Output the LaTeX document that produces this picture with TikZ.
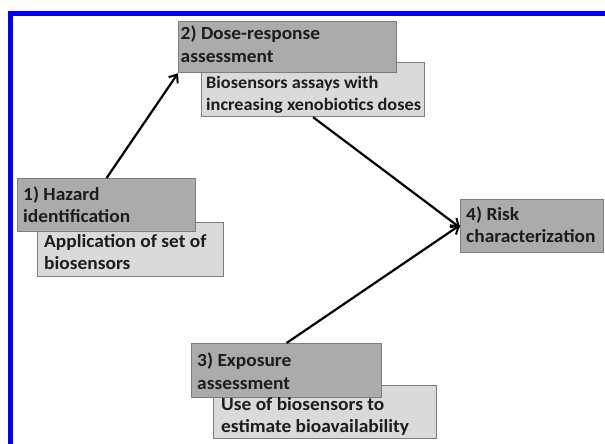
\documentclass[tikz,border=0pt]{standalone}
\usepackage{fontspec}
\setmainfont{Carlito}[FakeStretch=1.05]
\usetikzlibrary{arrows.meta}
\definecolor{darkfill}{RGB}{171,171,171}
\definecolor{lightfill}{RGB}{218,218,218}
\definecolor{boxline}{RGB}{125,125,125}
\definecolor{inkgray}{RGB}{28,28,28}
\definecolor{framblue}{RGB}{0,0,250}
\tikzset{
  darkbox/.style={draw=boxline, line width=1.2pt, fill=darkfill, anchor=north west, inner sep=0pt},
  lightbox/.style={draw=boxline, line width=1.2pt, fill=lightfill, anchor=north west, inner sep=0pt},
  label text/.style={anchor=base west, inner sep=0pt, text=inkgray,
    font=\bfseries\fontsize{18.5}{22.5}\selectfont},
  small text/.style={label text, font=\bfseries\fontsize{17.4}{22}\selectfont},
  flow/.style={draw=black, line width=2.2pt, -{Straight Barb[length=7pt, width=11pt, line width=2pt]}},
}
\newcommand{\twolines}[2]{\parbox[t]{260pt}{\raggedright #1\\#2}}
\begin{document}
\begin{tikzpicture}[x=1pt, y=-1pt]
  \useasboundingbox (0,0) rectangle (605,444);
  % blue frame, open to the right and bottom
  \draw[framblue, line width=5pt] (10.5,460) -- (10.5,13.5) -- (620,13.5);

  % lower (detail) boxes
  \node[lightbox, minimum width=223pt, minimum height=54pt] (d2) at (201,62) {};
  \node[lightbox, minimum width=186pt, minimum height=54pt] (d1) at (37,222) {};
  \node[lightbox, minimum width=223pt, minimum height=53pt] (d3) at (213,385) {};

  % upper (step) boxes
  \node[darkbox, minimum width=218pt, minimum height=51pt] (h2) at (178,21) {};
  \node[darkbox, minimum width=178pt, minimum height=53pt] (h1) at (17,178) {};
  \node[darkbox, minimum width=190pt, minimum height=54pt] (h3) at (191,343) {};
  \node[darkbox, minimum width=143pt, minimum height=53pt] (h4) at (460,199) {};

  % texts
  \node[label text] (h2t) at (180.5,40) {\twolines{2) Dose-response}{assessment}};
  \node[small text] (d2t) at (206,88.5) {\twolines{Biosensors assays\ with}{increasing xenobiotics doses}};
  \node[label text] (h1t) at (23,200) {\twolines{1) Hazard}{identification}};
  \node[label text] (d1t) at (44,247) {\twolines{Application of set of}{biosensors}};
  \node[label text] (h4t) at (466,220) {\twolines{4) Risk}{characterization}};
  \node[label text] (h3t) at (197,366.5) {\twolines{3) Exposure}{assessment}};
  \node[label text] (d3t) at (221,410) {\twolines{Use of biosensors to}{estimate bioavailability}};

  % connectors
  \draw[flow] (h1.north) -- (h2.south west);
  \draw[flow] (d2.south) -- ([yshift=-1.5pt]h4.west);
  \draw[flow] (h3.north) -- ([yshift=1pt]h4.west);
\end{tikzpicture}
\end{document}
